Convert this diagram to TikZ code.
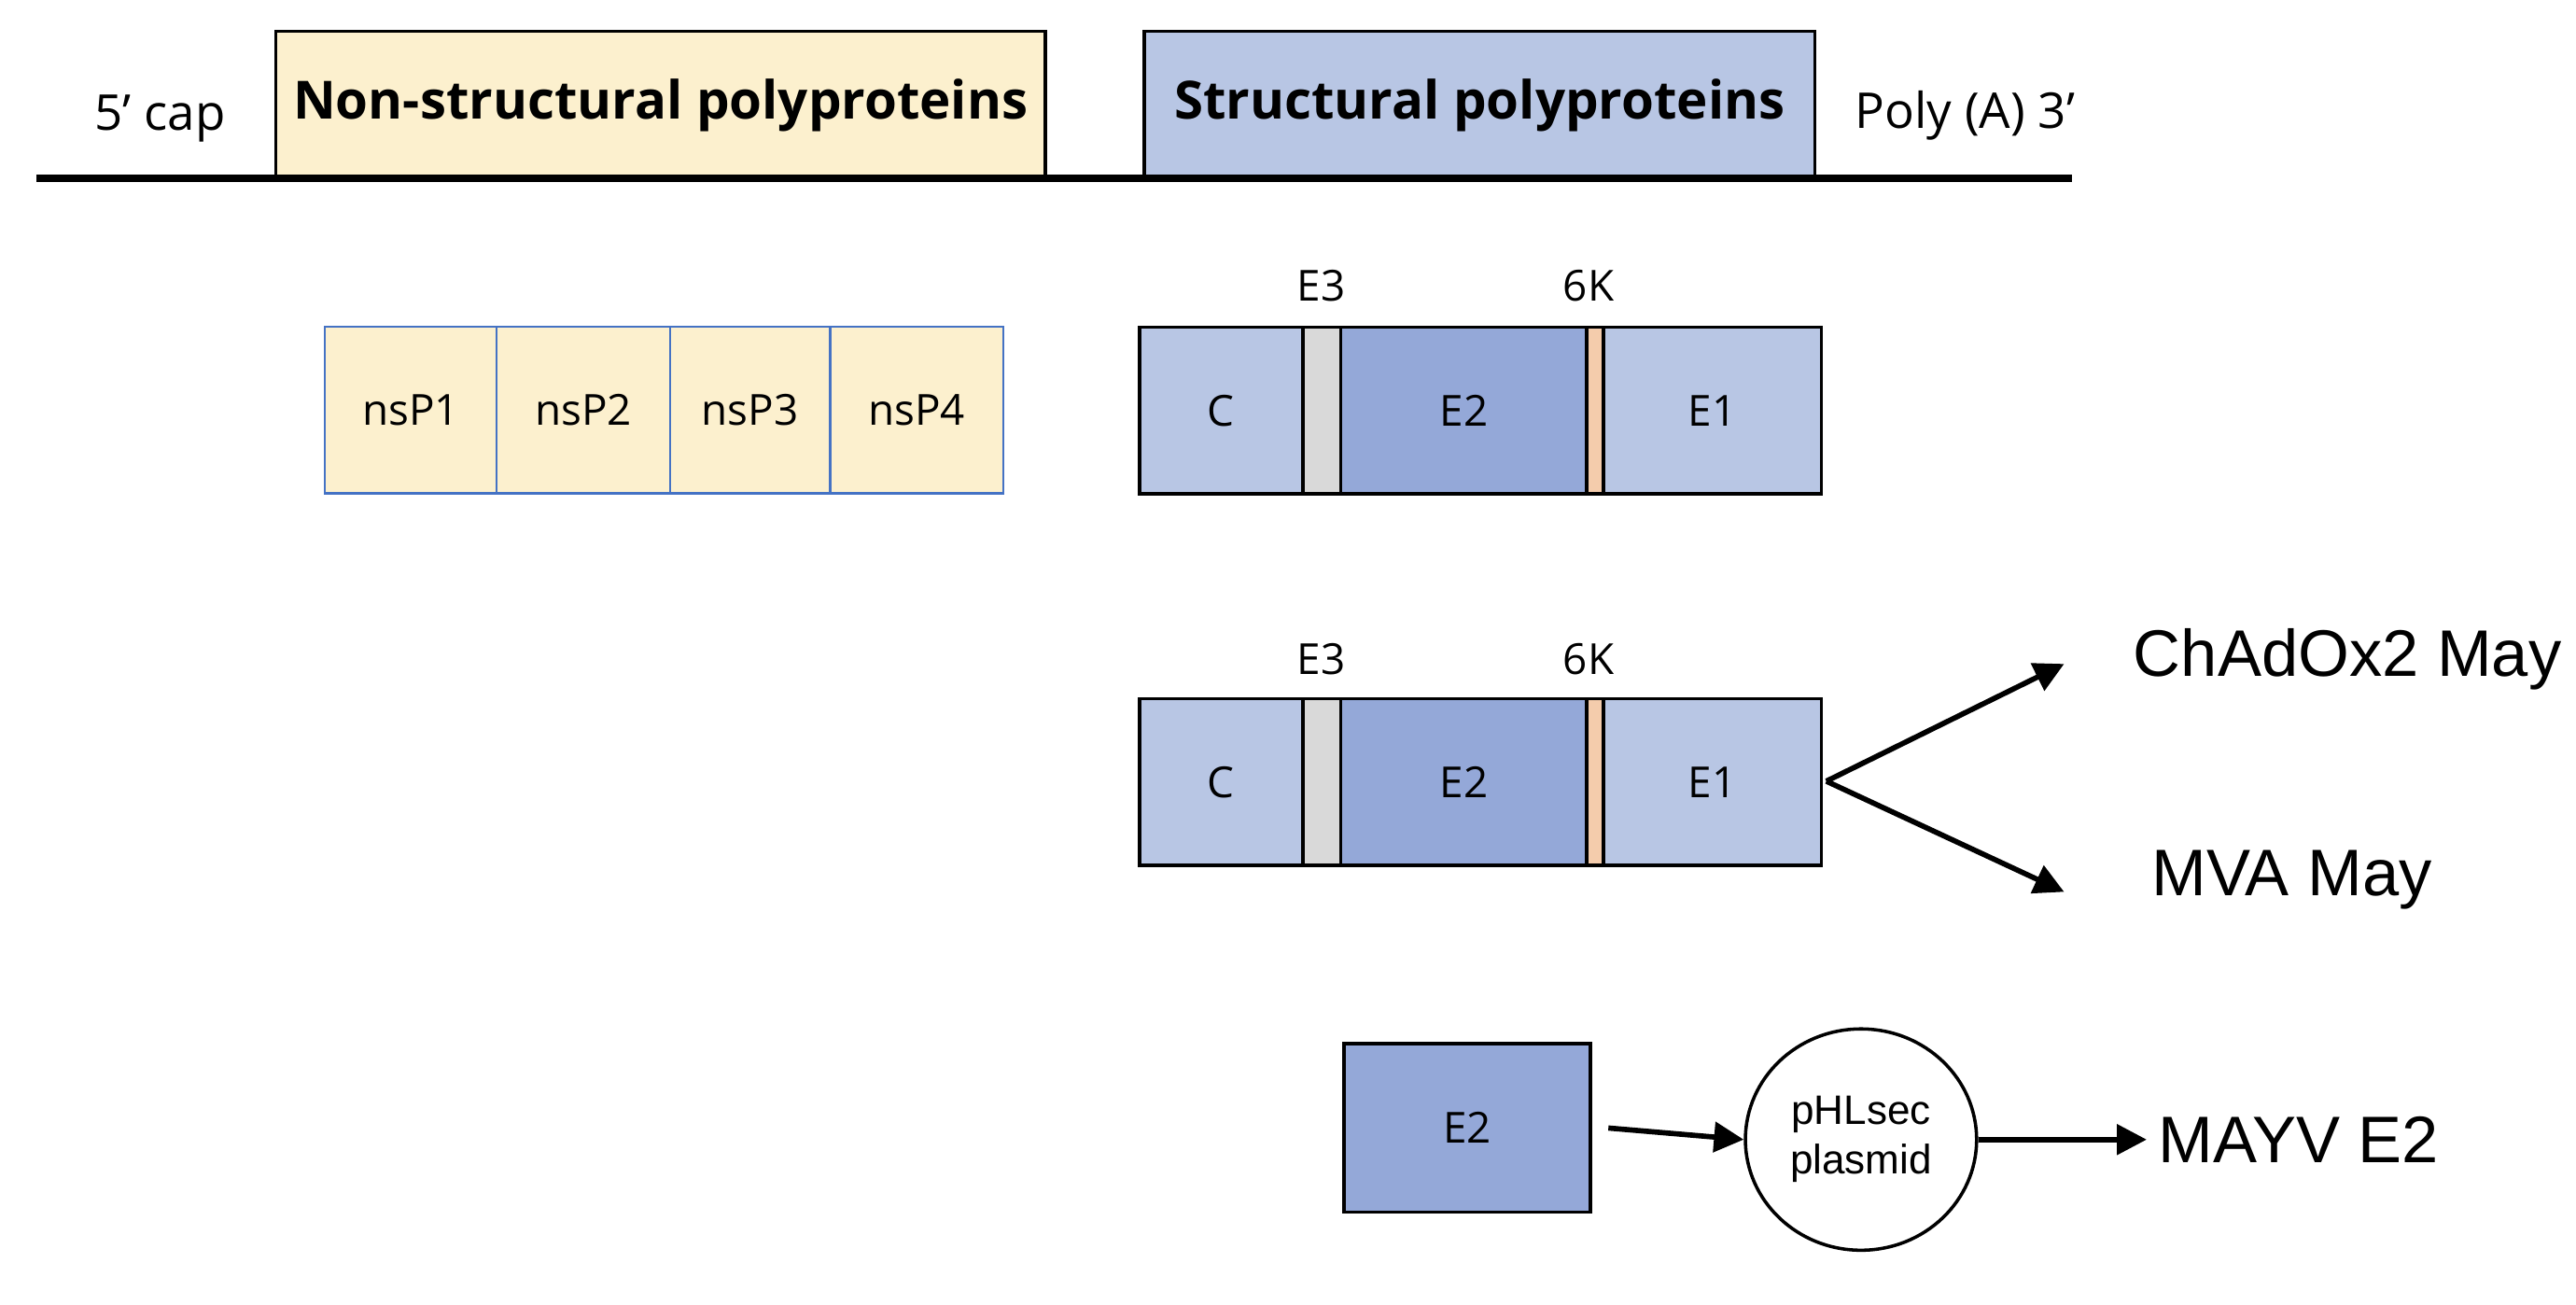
\documentclass[tikz,border=0pt]{standalone}
\usepackage{fontspec}
\setmainfont{Open Sans}
\newfontfamily\arialf{Liberation Sans}
\usetikzlibrary{shapes.geometric,arrows.meta}
\definecolor{cream}{HTML}{FCF0CE}
\definecolor{lblue}{HTML}{B8C6E4}
\definecolor{mblue}{HTML}{94A8D8}
\definecolor{lgray}{HTML}{D9D9D9}
\definecolor{peach}{HTML}{F4CCAC}
\definecolor{nsblue}{HTML}{4472C4}
\begin{document}
\begin{tikzpicture}[x=0.5bp,y=-0.5bp,
  bx/.style={draw=black,line width=1bp,anchor=north west,inner sep=0pt,minimum height=50.5bp,font=\fontsize{13}{15}\selectfont},
  ns/.style={draw=nsblue,line width=0.7bp,fill=cream,anchor=north west,inner sep=0pt,minimum height=50.5bp,font=\fontsize{13}{15}\selectfont},
  top/.style={draw=black,line width=1bp,anchor=north west,inner sep=0pt,minimum height=45bp,font=\bfseries\fontsize{16}{18}\selectfont},
  lab/.style={font=\fontsize{13}{15}\selectfont},
  big/.style={font=\arialf\fontsize{20}{24}\selectfont,anchor=west},
  arr/.style={line width=1.6bp,-{Triangle[length=9bp,width=9bp]}}]
\useasboundingbox (0,0) rectangle (1560,790);
% top
\node[top,fill=cream,minimum width=233bp] (nsp) at (166,18) {Non-structural polyproteins};
\node[top,fill=lblue,minimum width=203bp] (sp) at (692,18) {Structural polyproteins};
\coordinate (l0) at (22,108);
\coordinate (l1) at (1255,108);
\draw[line width=2.2bp] (l0) -- (l1);
\node[lab,font=\fontsize{15}{17}\selectfont] (cap) at (97,72) {5’ cap};
\node[lab,font=\fontsize{15}{17}\selectfont] (poly) at (1190,70) {Poly (A) 3’};
% nsP row
\node[ns,minimum width=52bp] (n1) at (196,197) {nsP1};
\node[ns,minimum width=52.5bp] (n2) at (300,197) {nsP2};
\node[ns,minimum width=48.5bp] (n3) at (405,197) {nsP3};
\node[ns,minimum width=52.5bp] (n4) at (502,197) {nsP4};
% structural row 1
\node[bx,fill=lblue,minimum width=49.5bp] (c1) at (689,197) {C};
\node[bx,fill=lgray,minimum width=11.5bp] (e31) at (788,197) {};
\node[bx,fill=mblue,minimum width=74.5bp] (e21) at (811,197) {E2};
\node[bx,fill=peach,minimum width=5bp] (k1) at (960,197) {};
\node[bx,fill=lblue,minimum width=66bp] (e11) at (970,197) {E1};
\node[lab] (le31) at (800,173) {E3};
\node[lab] (lk1) at (962,173) {6K};
% structural row 2
\node[bx,fill=lblue,minimum width=49.5bp] (c2) at (689,422) {C};
\node[bx,fill=lgray,minimum width=11.5bp] (e32) at (788,422) {};
\node[bx,fill=mblue,minimum width=74.5bp] (e22) at (811,422) {E2};
\node[bx,fill=peach,minimum width=5bp] (k2) at (960,422) {};
\node[bx,fill=lblue,minimum width=66bp] (e12) at (970,422) {E1};
\node[lab] (le32) at (800,399) {E3};
\node[lab] (lk2) at (962,399) {6K};
\coordinate (fork) at (1106,473);
\coordinate (ta) at (1250,402);
\coordinate (tb) at (1250,540);
\draw[arr] (fork) -- (ta);
\draw[arr] (fork) -- (tb);
\node[big] (chad) at (1285,399) {ChAdOx2 May};
\node[big] (mva) at (1296,533) {MVA May};
% bottom
\node[bx,fill=mblue,minimum width=74.5bp,minimum height=51bp] (e2b) at (813,631) {E2};
\node[draw,ellipse,line width=1bp,minimum width=70bp,minimum height=67bp,inner sep=0pt,align=center,font=\arialf\fontsize{12.5}{15}\selectfont] (pl) at (1127,690) {pHLsec\\plasmid};
\node[big] (mayv) at (1300,690) {MAYV E2};
\draw[arr] ([xshift=5bp]e2b.east) -- (pl.west);
\draw[arr] (pl.east) -- (mayv.west);
\end{tikzpicture}
\end{document}
